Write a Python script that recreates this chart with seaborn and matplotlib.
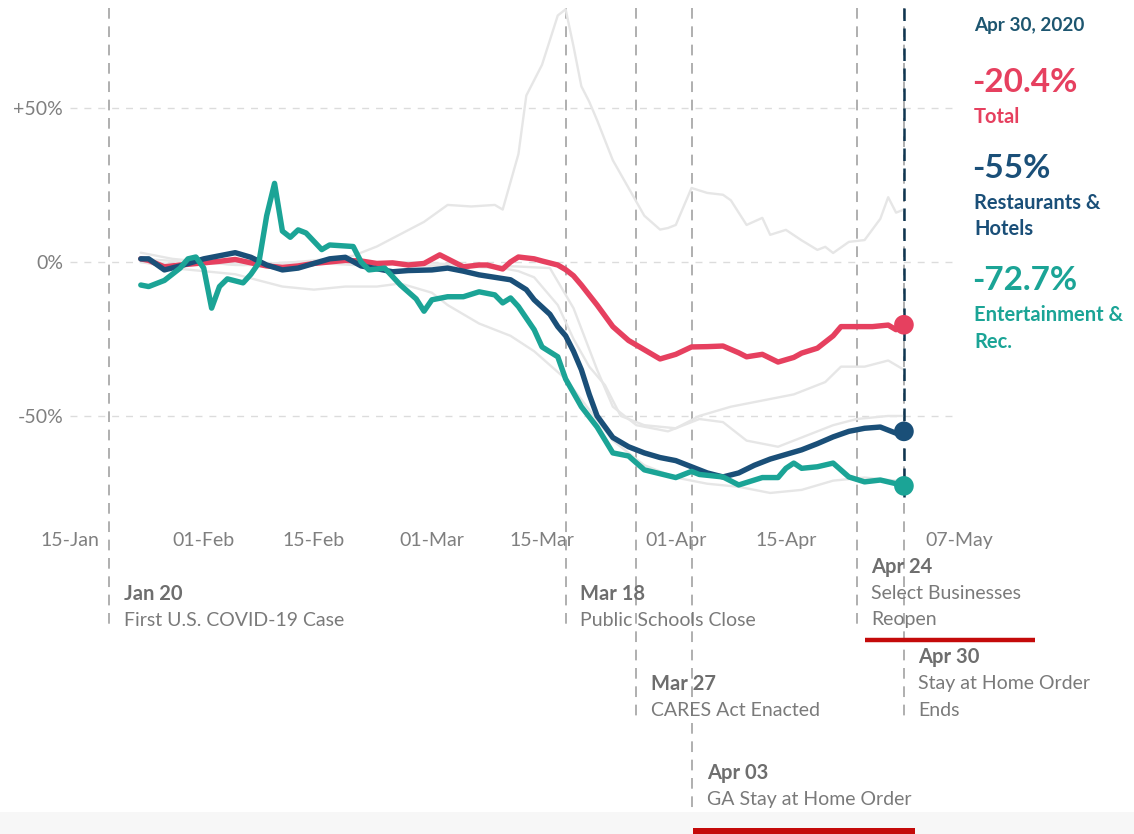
import pandas as pd
import matplotlib
matplotlib.use("Agg")
import matplotlib.pyplot as plt
import matplotlib.transforms as mtransforms
from matplotlib.lines import Line2D
from matplotlib.patches import Rectangle
import seaborn as sns

# ---- Spending change vs. January baseline (%), 2020 -------------------------
total_dates = ["01-24", "01-25", "01-27", "01-29", "02-01", "02-03", "02-05", "02-07",
               "02-09", "02-11", "02-13", "02-15", "02-17", "02-19", "02-21", "02-23",
               "02-25", "02-27", "02-29", "03-02", "03-03", "03-05", "03-07", "03-08",
               "03-10", "03-11", "03-12", "03-14", "03-15", "03-17", "03-18", "03-19",
               "03-20", "03-22", "03-24", "03-26", "03-28", "03-30", "04-01", "04-03",
               "04-05", "04-07", "04-09", "04-10", "04-12", "04-14", "04-16", "04-17",
               "04-19", "04-21", "04-22", "04-24", "04-26", "04-28", "04-29"]
total_vals = [1.0, 0.5, -1.6, -1.0, -0.3, 0.2, 0.8, -0.3,
              -1.3, -1.8, -1.3, -0.5, 0.0, 0.5, 0.3, -0.5,
              -0.3, -1.0, -0.5, 2.3, 1.0, -1.6, -1.0, -1.0,
              -2.3, 0.0, 1.6, 1.0, 0.3, -1.0, -2.5, -4.5,
              -7.5, -14.0, -21.0, -25.5, -28.5, -31.5, -30.0, -27.6,
              -27.5, -27.3, -29.5, -30.8, -30.0, -32.5, -31.0, -29.6,
              -28.0, -24.0, -21.0, -21.0, -21.0, -20.5, -22.0]

rest_dates = ["01-24", "01-25", "01-27", "01-29", "02-01", "02-03", "02-05", "02-07",
              "02-09", "02-11", "02-13", "02-15", "02-17", "02-19", "02-21", "02-23",
              "02-25", "02-27", "03-01", "03-03", "03-05", "03-07", "03-09", "03-11",
              "03-13", "03-14", "03-16", "03-17", "03-18", "03-19", "03-20", "03-21",
              "03-22", "03-24", "03-26", "03-28", "03-30", "04-01", "04-03", "04-05",
              "04-07", "04-09", "04-11", "04-13", "04-15", "04-17", "04-19", "04-21",
              "04-23", "04-25", "04-27", "04-29"]
rest_vals = [1.0, 1.0, -2.6, -1.3, 1.0, 2.0, 3.0, 1.5,
             -1.0, -2.6, -2.0, -0.5, 1.0, 1.5, -1.3, -2.2,
             -3.2, -2.8, -2.6, -2.0, -3.0, -4.2, -5.0, -5.8,
             -9.0, -12.3, -17.0, -21.0, -24.0, -29.0, -35.0, -43.0,
             -50.0, -57.0, -60.0, -62.0, -63.5, -64.5, -66.5, -68.5,
             -69.8, -68.5, -66.0, -64.0, -62.5, -61.0, -59.0, -56.8,
             -55.0, -54.0, -53.6, -55.6]

ent_dates = ["01-24", "01-25", "01-27", "01-29", "01-30", "01-31", "02-01", "02-02",
             "02-03", "02-04", "02-06", "02-07", "02-08", "02-09", "02-10", "02-11",
             "02-12", "02-13", "02-14", "02-16", "02-17", "02-20", "02-21", "02-22",
             "02-24", "02-26", "02-28", "02-29", "03-01", "03-03", "03-05", "03-07",
             "03-09", "03-10", "03-11", "03-12", "03-14", "03-15", "03-17", "03-18",
             "03-20", "03-22", "03-24", "03-26", "03-28", "04-01", "04-03", "04-04",
             "04-07", "04-09", "04-12", "04-14", "04-15", "04-16", "04-17", "04-19",
             "04-21", "04-23", "04-25", "04-27", "04-29"]
ent_vals = [-7.5, -8.0, -6.0, -2.0, 1.0, 1.6, -2.0, -15.0,
            -8.0, -5.5, -6.8, -4.0, -0.3, 15.0, 25.5, 10.0,
            8.0, 10.4, 9.4, 4.0, 5.5, 5.0, 0.0, -2.6,
            -2.0, -7.5, -12.0, -16.0, -12.3, -11.3, -11.3, -9.7,
            -10.7, -13.3, -11.7, -14.5, -22.0, -27.6, -30.8, -38.0,
            -47.0, -53.6, -62.0, -63.0, -67.5, -70.0, -68.0, -69.0,
            -69.8, -72.4, -70.0, -70.0, -67.0, -65.3, -67.0, -66.5,
            -65.3, -69.8, -71.4, -70.8, -72.0]

# Values shown in the side panel for the selected day
latest_date = "04-30"
latest_vals = {"Total": -20.4, "Restaurants & Hotels": -55.0, "Entertainment & Rec.": -72.7}

# Other spending categories (context lines)
grocery_dates = ["01-24", "01-28", "02-01", "02-05", "02-09", "02-13", "02-17", "02-20",
                 "02-23", "02-26", "02-29", "03-03", "03-06", "03-09", "03-10", "03-12",
                 "03-13", "03-15", "03-16", "03-17", "03-18", "03-19", "03-20", "03-21",
                 "03-22", "03-24", "03-26", "03-28", "03-30", "03-31", "04-01", "04-03",
                 "04-05", "04-07", "04-08", "04-10", "04-12", "04-13", "04-15", "04-17",
                 "04-19", "04-20", "04-21", "04-23", "04-25", "04-27", "04-28", "04-29",
                 "04-30"]
grocery_vals = [3.0, 1.0, 0.0, -1.0, -1.0, 0.0, 1.0, 2.0,
                5.0, 9.0, 13.0, 18.5, 18.0, 18.5, 17.0, 35.0,
                54.0, 64.0, 72.0, 80.0, 82.0, 70.0, 57.0, 52.0,
                46.0, 33.0, 24.0, 15.0, 10.5, 11.0, 12.0, 24.0,
                22.4, 21.8, 20.0, 12.0, 14.3, 8.8, 10.4, 7.0,
                3.9, 4.9, 2.9, 6.5, 7.1, 14.0, 21.0, 16.0,
                17.0]

travel_dates = ["01-24", "01-28", "02-01", "02-05", "02-08", "02-11", "02-15", "02-19",
                "02-23", "02-26", "03-01", "03-03", "03-07", "03-11", "03-14", "03-18",
                "03-21", "03-24", "03-28", "04-01", "04-05", "04-09", "04-13", "04-17",
                "04-21", "04-25", "04-29"]
travel_vals = [0.0, -2.0, -3.0, -4.0, -6.0, -8.0, -9.0, -8.0,
               -8.0, -7.0, -10.0, -14.0, -20.0, -24.0, -29.0, -38.0,
               -48.0, -58.0, -66.0, -70.0, -72.0, -73.0, -75.0, -74.0,
               -71.0, -70.0, -71.0]

retail_dates = ["01-24", "01-30", "02-06", "02-13", "02-20", "02-27", "03-05", "03-10",
                "03-12", "03-14", "03-17", "03-19", "03-21", "03-23", "03-25", "03-28",
                "04-01", "04-04", "04-08", "04-12", "04-16", "04-20", "04-22", "04-25",
                "04-28", "04-30"]
retail_vals = [0.0, -1.0, 0.0, -1.0, 0.0, -1.0, -1.5, -2.0,
               -3.0, -5.0, -14.0, -25.0, -34.0, -40.0, -50.0, -53.0,
               -54.0, -50.0, -47.0, -45.0, -43.0, -39.0, -34.0, -34.0,
               -32.0, -35.0]

transport_dates = ["01-24", "01-30", "02-06", "02-13", "02-20", "02-27", "03-05", "03-12",
                   "03-16", "03-19", "03-22", "03-24", "03-27", "03-31", "04-04", "04-07",
                   "04-10", "04-14", "04-17", "04-21", "04-24", "04-28", "04-30"]
transport_vals = [1.0, 0.0, -1.0, 0.0, -1.0, 0.0, -1.0, -1.5,
                  -2.0, -15.0, -35.0, -47.0, -53.0, -55.0, -51.0, -52.0,
                  -58.0, -60.0, -57.0, -53.0, -51.0, -50.0, -50.0]

# Policy milestones: date, bold heading, caption lines
event_dates = ["01-20", "03-18", "03-27", "04-03", "04-24", "04-30"]
event_heads = ["Jan 20", "Mar 18", "Mar 27", "Apr 03", "Apr 24", "Apr 30"]
event_texts = [["First U.S. COVID-19 Case"], ["Public Schools Close"],
               ["CARES Act Enacted"], ["GA Stay at Home Order"],
               ["Select Businesses", "Reopen"], ["Stay at Home Order", "Ends"]]

tick_dates = ["01-15", "02-01", "02-15", "03-01", "03-15", "04-01", "04-15", "05-07"]
tick_labels = ["15-Jan", "01-Feb", "15-Feb", "01-Mar", "15-Mar", "01-Apr", "15-Apr", "07-May"]
y_ticks = [50, 0, -50]
y_labels = ["+50%", "0%", "-50%"]


def to_dt(mmdd):
    return pd.to_datetime(["2020-" + d for d in mmdd])


RED = "#e6405f"
NAVY = "#1a4f78"
TEAL = "#1ba496"
GREY_LINE = "#e6e6e6"
colors = {"Total": RED, "Restaurants & Hotels": NAVY, "Entertainment & Rec.": TEAL}

main = pd.concat([
    pd.DataFrame({"date": to_dt(total_dates), "value": total_vals, "series": "Total"}),
    pd.DataFrame({"date": to_dt(rest_dates), "value": rest_vals, "series": "Restaurants & Hotels"}),
    pd.DataFrame({"date": to_dt(ent_dates), "value": ent_vals, "series": "Entertainment & Rec."}),
], ignore_index=True)

context = pd.concat([
    pd.DataFrame({"date": to_dt(grocery_dates), "value": grocery_vals, "cat": "Grocery"}),
    pd.DataFrame({"date": to_dt(travel_dates), "value": travel_vals, "cat": "Travel"}),
    pd.DataFrame({"date": to_dt(retail_dates), "value": retail_vals, "cat": "Retail"}),
    pd.DataFrame({"date": to_dt(transport_dates), "value": transport_vals, "cat": "Transport"}),
], ignore_index=True)

dots = pd.DataFrame({"date": to_dt([latest_date] * 3),
                     "value": list(latest_vals.values()),
                     "series": list(latest_vals.keys())})

sns.set_style("white")
plt.rcParams["font.family"] = ["Lato", "DejaVu Sans"]

W, H = 1134, 834
fig = plt.figure(figsize=(W / 100, H / 100), dpi=100)
fig.patch.set_facecolor("white")
ax = fig.add_axes([70 / W, (H - 525) / H, (959 - 70) / W, (525 - 5) / H])
ax.set_facecolor("none")

x0, x1 = pd.Timestamp("2020-01-15"), pd.Timestamp("2020-05-07")
ax.set_xlim(x0, x1)
ax.set_ylim(-85.4, 83.4)

# horizontal reference lines
for yv in y_ticks:
    ax.axhline(yv, color="#dcdcdc", lw=1.0, ls=(0, (5, 5)), zorder=0)

# milestone lines run from the top of the chart down to their captions
blend = mtransforms.blended_transform_factory(ax.transData, fig.transFigure)
event_bottoms = [628, 628, 718, 808, 628, 718]
for d, yb in zip(event_dates, event_bottoms):
    xd = pd.Timestamp("2020-" + d)
    ax.add_line(Line2D([xd, xd], [1 - 8 / H, 1 - yb / H], transform=blend,
                       color="#9a9a9a", lw=1.1, ls=(0, (7, 5)), clip_on=False, zorder=1))

sns.lineplot(data=context, x="date", y="value", units="cat", estimator=None,
             color=GREY_LINE, lw=1.7, ax=ax, zorder=2, legend=False,
             solid_joinstyle="round")
sns.lineplot(data=main, x="date", y="value", hue="series", palette=colors,
             estimator=None, lw=3.9, ax=ax, zorder=3, legend=False,
             solid_joinstyle="round", solid_capstyle="round")

# hover marker for the selected day
xs = pd.Timestamp("2020-" + latest_date)
ax.add_line(Line2D([xs, xs], [1 - 8 / H, 1 - 497 / H], transform=blend,
                   color="#0f3550", lw=1.8, ls=(0, (5, 3)), clip_on=False, zorder=4))
sns.scatterplot(data=dots, x="date", y="value", hue="series", palette=colors,
                s=200, edgecolor="none", ax=ax, zorder=5, legend=False, clip_on=False)

ax.set_xticks(to_dt(tick_dates))
ax.set_xticklabels(tick_labels)
ax.set_yticks(y_ticks)
ax.set_yticklabels(y_labels)
ax.tick_params(axis="x", length=0, pad=5, labelsize=14, labelcolor="#7f7f7f")
ax.tick_params(axis="y", length=0, pad=5, labelsize=14, labelcolor="#7f7f7f")
ax.set_xlabel("")
ax.set_ylabel("")
sns.despine(ax=ax, left=True, bottom=True)


def ftext(x, y, s, **kw):
    fig.text(x / W, 1 - y / H, s, va="center", ha="left", **kw)


# side panel with the selected-day readout
ftext(974, 25, "Apr 30, 2020", fontsize=13.6, fontweight="bold", color="#1d5670")
ftext(972, 82, "-20.4%", fontsize=24, fontweight="bold", color=RED)
ftext(974, 117, "Total", fontsize=14.5, fontweight="bold", color=RED)
ftext(972, 168, "-55%", fontsize=24, fontweight="bold", color=NAVY)
ftext(974, 203, "Restaurants &", fontsize=14.5, fontweight="bold", color=NAVY)
ftext(974, 229, "Hotels", fontsize=14.5, fontweight="bold", color=NAVY)
ftext(972, 280, "-72.7%", fontsize=24, fontweight="bold", color=TEAL)
ftext(974, 315, "Entertainment &", fontsize=14.5, fontweight="bold", color=TEAL)
ftext(974, 342, "Rec.", fontsize=14.5, fontweight="bold", color=TEAL)

# milestone captions
event_xy = [(124, 594), (580, 594), (651, 684), (707, 773), (871, 567), (918, 657)]
for (tx, ty), head, lines in zip(event_xy, event_heads, event_texts):
    ftext(tx, ty, head, fontsize=14.5, fontweight="bold", color="#6e6e6e")
    for i, ln in enumerate(lines):
        ftext(tx, ty + 26.5 * (i + 1), ln, fontsize=14, color="#7a7a7a")

# selection underlines and footer strip
fig.add_artist(Rectangle((0, 0), 1, 22 / H, transform=fig.transFigure,
                         facecolor="#f7f7f7", edgecolor="none", zorder=0))
fig.add_artist(Line2D([865 / W, 1035 / W], [1 - 640 / H] * 2, transform=fig.transFigure,
                      color="#c40a0a", lw=3.2, solid_capstyle="butt"))
fig.add_artist(Rectangle((693 / W, 0), (915 - 693) / W, 6 / H, transform=fig.transFigure,
                         facecolor="#c40a0a", edgecolor="none"))

fig.savefig("out.png", dpi=100, facecolor="white")
